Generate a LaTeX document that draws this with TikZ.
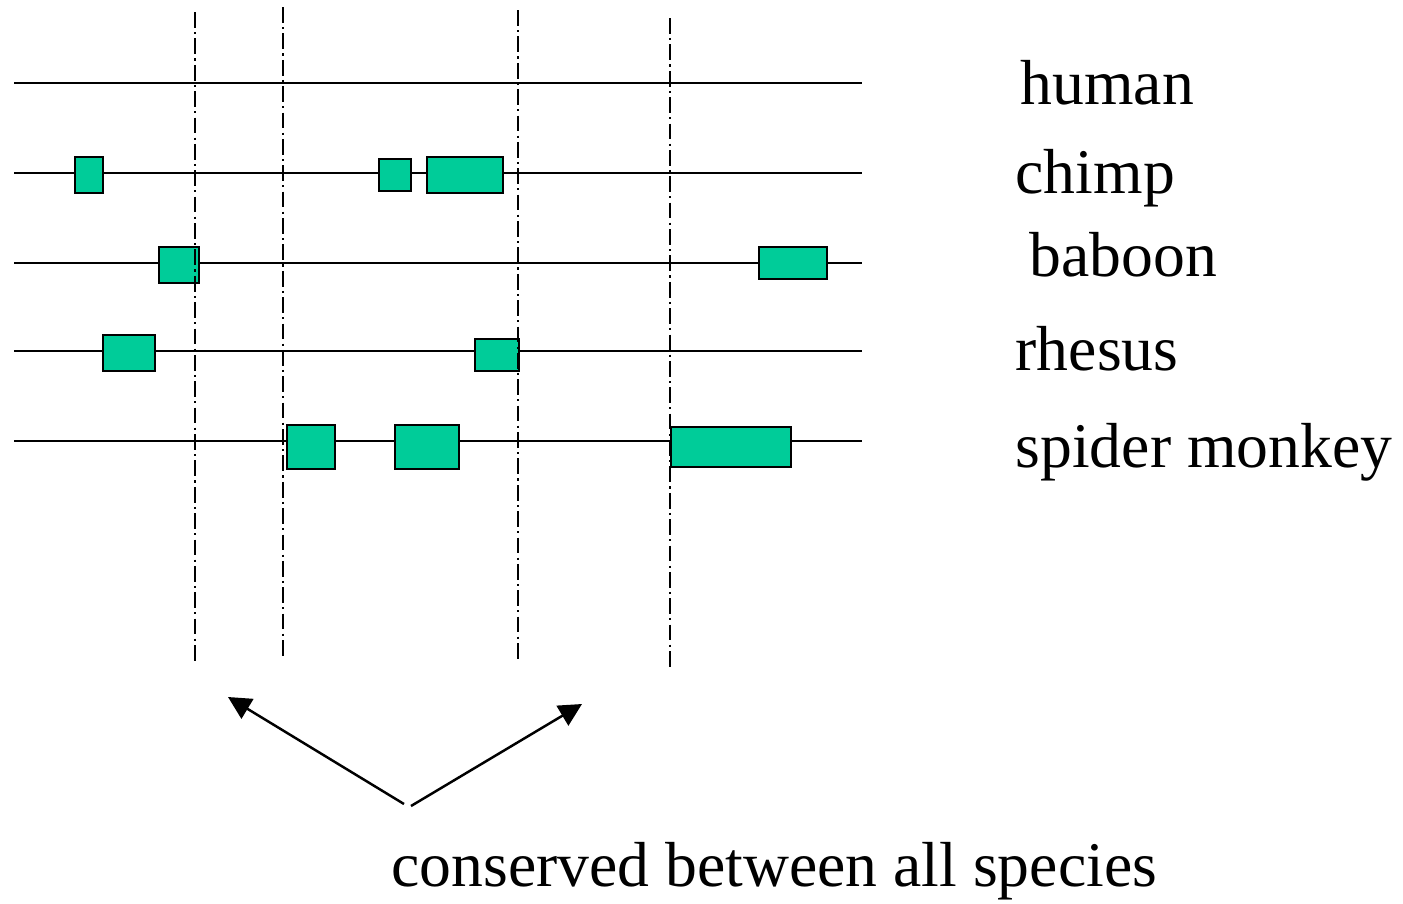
\documentclass[tikz,border=0pt]{standalone}
\usepackage{fontspec}
\setmainfont{Liberation Serif}
\usetikzlibrary{arrows.meta}
\definecolor{exongreen}{RGB}{0,204,153}
\tikzset{
  track/.style={line width=0.7pt},
  conserved/.style={line width=0.7pt, dash pattern=on 4.5pt off 1.2pt on 0.6pt off 1.2pt},
  exon/.style={line width=0.7pt, fill=exongreen},
  species/.style={anchor=base west, inner sep=0pt, font=\fontsize{18.1}{20}\selectfont},
  pointer/.style={line width=0.7pt, -{Triangle[length=6.5pt,width=6.5pt]}}
}
\begin{document}
\begin{tikzpicture}[x=0.01cm,y=-0.01cm]
    \useasboundingbox (0,0) rectangle (1403,903);
    % sequence tracks
    \foreach \y in {83,173,263,351,441}
    \draw[track] (14,\y) -- (862,\y);
    % exon blocks
    \foreach \xa/\ya/\xb/\yb in {75/157/103/193, 379/159/411/191, 427/157/503/193,
                                 159/247/199/283, 759/247/827/279,
                                 103/335/155/371, 475/339/519/371,
                                 287/425/335/469, 395/425/459/469, 671/427/791/467}
    \draw[exon] (\xa,\ya) rectangle (\xb,\yb);
    % conserved region borders
    \draw[conserved] (195,12) -- (195,663);
    \draw[conserved] (283,7) -- (283,656);
    \draw[conserved] (518,10) -- (518,660);
    \draw[conserved] (670,18) -- (670,668);
    % labels
    \node[species] (human) at (1020,104) {human};
    \node[species] (chimp) at (1015,193) {chimp};
    \node[species] (baboon) at (1029,276) {baboon};
    \node[species] (rhesus) at (1015,370) {rhesus};
    \node[species] (spider) at (1015,467) {spider monkey};
    \node[species] (note) at (391,886) {conserved between all species};
    \coordinate (leftfoot) at (404,804);
    \coordinate (rightfoot) at (411,806);
    \coordinate (lefttip) at (228,697);
    \coordinate (righttip) at (582,704);
    \draw[pointer] (leftfoot) -- (lefttip);
    \draw[pointer] (rightfoot) -- (righttip);
\end{tikzpicture}
\end{document}
